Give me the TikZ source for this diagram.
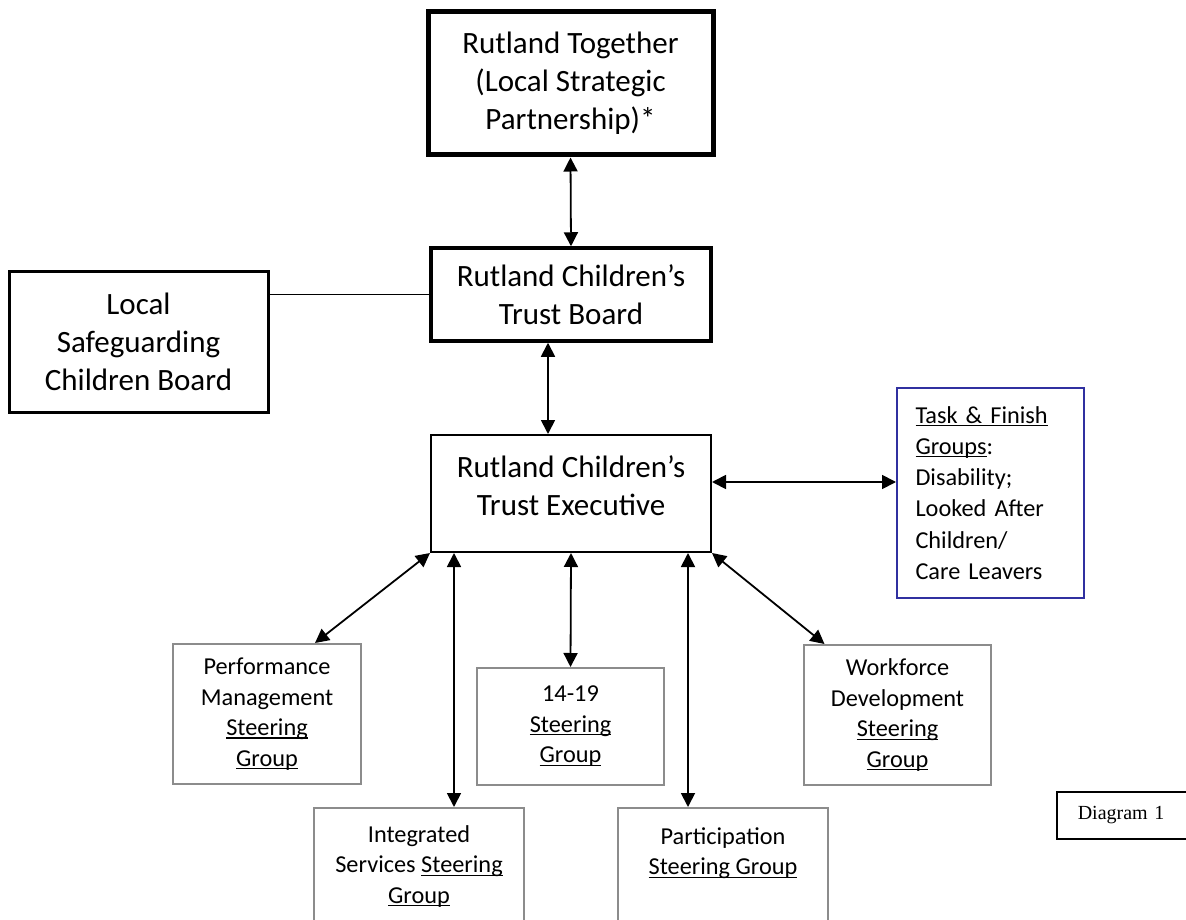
\documentclass[tikz,border=0pt]{standalone}
\usepackage{fontspec}
\setmainfont{Carlito}
\newfontfamily\diagfont{Liberation Serif}
\usepackage{tikz}
\usetikzlibrary{positioning,arrows.meta}
\definecolor{groupgrey}{RGB}{140,140,140}
\definecolor{taskblue}{RGB}{48,48,160}
\newcommand{\wordul}[1]{\leavevmode\setbox0\hbox{#1}\rlap{\rule[-3pt]{\wd0}{1.2pt}}\box0}

\begin{document}
\begin{tikzpicture}[
    x=1pt, y=-1pt,
    big_box/.style={draw=black, fill=white, inner sep=0pt, align=center, font=\fontsize{31}{38}\selectfont},
    group_box/.style={draw=groupgrey, line width=2pt, fill=white, inner sep=0pt, align=center, minimum width=187pt, font=\fontsize{24.3}{30.5}\selectfont},
    arrow_style/.style={{Triangle[length=14pt,width=14pt]}-{Triangle[length=14pt,width=14pt]}, line width=1.8pt}
]
\useasboundingbox (0,0) rectangle (1186,920);
\clip (0,0) rectangle (1186,920);

% Top level
\node[big_box, line width=5pt, minimum width=285pt, minimum height=143pt] (RT) at (570.5,83.5) {Rutland Together\\(Local Strategic\\Partnership)*};

% Board level
\node[big_box, line width=3.5pt, minimum width=280pt, minimum height=93pt] (Board) at (571,294.5) {Rutland Children’s\\Trust Board};
\node[big_box, line width=3pt, minimum width=259pt, minimum height=141pt] (LSCB) at (138.5,341.5) {Local\\Safeguarding\\Children Board};

% Executive level
\node[big_box, line width=2pt, minimum width=280pt, minimum height=117pt, text depth=16pt] (Exec) at (571,493.5) {Rutland Children’s\\Trust Executive};
\node[draw=taskblue, line width=2pt, inner xsep=18.5pt, inner ysep=0pt, text width=150pt, align=left, minimum height=210pt, font=\fontsize{24.3}{31.3}\selectfont] (TF) at (990.5,493) {\wordul{Task \& Finish}\\\wordul{Groups}:\\Disability;\\Looked After\\Children/\\Care Leavers};

% Steering groups
\node[group_box, minimum width=188pt, minimum height=140pt] (PM) at (267,714) {Performance\\Management\\\wordul{Steering}\\\wordul{Group}};
\node[group_box, minimum height=117pt] (G1419) at (570.5,726.5) {14-19\\\wordul{Steering}\\\wordul{Group}};
\node[group_box, minimum height=140pt] (WD) at (897.5,715) {Workforce\\Development\\\wordul{Steering}\\\wordul{Group}};
\node[group_box, minimum width=210pt, minimum height=117pt] (IS) at (419,866.5) {Integrated\\Services \wordul{Steering}\\\wordul{Group}};
\node[group_box, minimum width=210pt, minimum height=117pt] (Part) at (723,866.5) {Participation\\\wordul{Steering Group}\\\mbox{}};

\node[draw=black, line width=1.5pt, anchor=west, inner xsep=21pt, inner ysep=0pt, text width=120pt, align=left, minimum height=47pt, font=\diagfont\fontsize{20}{24}\selectfont] (D1) at (1056,815.5) {Diagram 1};

% Arrow end points
\coordinate (TFleft) at ([yshift=11.5pt]Exec.east);
\coordinate (ISfoot) at ([xshift=-117pt]Exec.south);
\coordinate (Partfoot) at ([xshift=117pt]Exec.south);

% Links between the upper boxes
\draw[arrow_style] (RT.south) -- (Board.north);
\draw[line width=1.5pt] (Board.west) -- (LSCB.east |- Board.west);
\draw[arrow_style] ([xshift=-23pt]Board.south) -- ([xshift=-23pt]Exec.north);
\draw[arrow_style] (TFleft) -- (TF.west |- TFleft);

% Links from the Executive
\draw[arrow_style] (Exec.south west) -- ([xshift=48pt]PM.north);
\draw[arrow_style] (ISfoot) -- (IS.north -| ISfoot);
\draw[arrow_style] (Exec.south) -- (G1419.north);
\draw[arrow_style] (Partfoot) -- (Part.north -| Partfoot);
\draw[arrow_style] (Exec.south east) -- ([xshift=-73pt]WD.north);

\end{tikzpicture}
\end{document}
